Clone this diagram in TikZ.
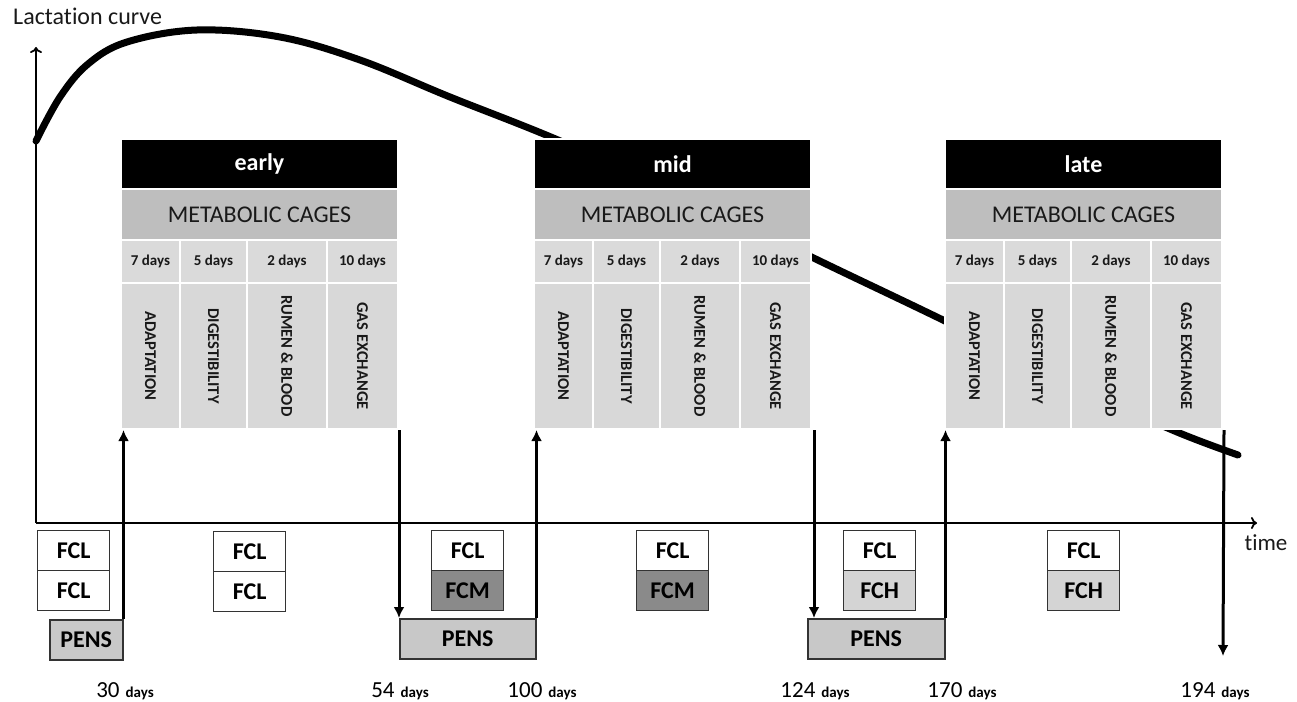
\documentclass[tikz,border=0pt]{standalone}
\usepackage{fontspec}
\setmainfont{Carlito}[Ligatures=NoCommon]
\usetikzlibrary{arrows.meta}
\definecolor{mcgray}{HTML}{BEBEBE}
\definecolor{daygray}{HTML}{DADADA}
\definecolor{bodygray}{HTML}{D8D8D8}
\definecolor{pensgray}{HTML}{C8C8C8}
\definecolor{fcmgray}{HTML}{8A8A8A}
\definecolor{fchgray}{HTML}{D4D4D4}
\tikzset{
  cell/.style={draw=white, line width=2pt, inner sep=0pt, anchor=north west},
  hdrbox/.style={cell, fill=black, text=white, minimum width=277pt, minimum height=50pt,
    font=\fontsize{24}{28}\selectfont\bfseries},
  mcbox/.style={cell, fill=mcgray, text=black!90, minimum width=277pt, minimum height=51pt,
    font=\fontsize{24}{28}\selectfont},
  daybox/.style={cell, fill=daygray, text=black!90, minimum height=43pt,
    font=\fontsize{15}{17}\selectfont\bfseries},
  bodybox/.style={cell, fill=bodygray, minimum height=146pt},
  vtext/.style={rotate=-90, inner sep=0pt, text=black!90, font=\fontsize{16.5}{18}\selectfont\bfseries},
  fbox/.style={draw=black!80, line width=1.3pt, inner sep=0pt, anchor=north west,
    minimum width=72pt, minimum height=40pt, font=\fontsize{24}{28}\selectfont\bfseries},
  pens/.style={draw=black!80, line width=1.5pt, fill=pensgray, inner sep=0pt, anchor=north west,
    minimum height=40pt, font=\fontsize{24}{28}\selectfont\bfseries},
  arr/.style={line width=3pt, -{Latex[length=11pt,width=11pt]}},
  daylbl/.style={anchor=base, inner sep=0pt},
}
\newcommand\dlab[1]{{\fontsize{23}{26}\selectfont #1}\hspace{6pt}{\fontsize{15}{18}\selectfont\bfseries days}}
\newcommand\cagebox[3]{%
  \node[hdrbox] (#1h) at (#2,138) {#3};
  \node[mcbox] (#1m) at (#2,188) {METABOLIC CAGES};
  \node[daybox, minimum width=59pt] (#1d1) at (#2,239) {7 days};
  \node[daybox, minimum width=67pt] (#1d2) at ({#2+59},239) {5 days};
  \node[daybox, minimum width=80pt] (#1d3) at ({#2+126},239) {2 days};
  \node[daybox, minimum width=71pt] (#1d4) at ({#2+206},239) {10 days};
  \node[bodybox, minimum width=59pt] (#1b1) at (#2,282) {};
  \node[bodybox, minimum width=67pt] (#1b2) at ({#2+59},282) {};
  \node[bodybox, minimum width=80pt] (#1b3) at ({#2+126},282) {};
  \node[bodybox, minimum width=71pt] (#1b4) at ({#2+206},282) {};
  \node[vtext] (#1t1) at (#1b1.center) {ADAPTATION};
  \node[vtext] (#1t2) at (#1b2.center) {DIGESTIBILITY};
  \node[vtext] (#1t3) at (#1b3.center) {RUMEN \& BLOOD};
  \node[vtext] (#1t4) at (#1b4.center) {GAS EXCHANGE};
}
\begin{document}
\begin{tikzpicture}[x=1pt, y=-1pt]
\useasboundingbox (0,0) rectangle (1297,701);
% lactation curve
\draw[line width=7pt, line cap=round] plot[smooth, tension=0.6] coordinates {
 (36,141) (60,97) (88,64) (127,42) (197,30) (280,37) (360,60) (450,97)
 (558,140) (700,203) (826,264) (943,320) (1100,397) (1177,432) (1238,455)};
% boxes
\cagebox{e}{120}{early}
\cagebox{m}{533}{mid}
\cagebox{l}{944}{late}
% axes
\coordinate (O) at (36,523);
\coordinate (ytop) at (36,47);
\coordinate (xend) at (1257,523);
\draw[line width=1.8pt, -{To[length=6pt,width=12pt]}] (O) -- (ytop);
\draw[line width=1.8pt, -{To[length=6pt,width=12pt]}] (O) -- (xend);
\node[anchor=base west, inner sep=0pt, font=\fontsize{24}{28}\selectfont, text=black!90] (ylab) at (13,25) {Lactation curve};
\node[anchor=base, inner sep=0pt, font=\fontsize{23}{28}\selectfont, text=black!90] (xlab) at (1266,550) {time};
% feed boxes
\node[fbox] (f1a) at (37,530) {FCL};
\node[fbox] (f1b) at (37,570) {FCL};
\node[fbox] (f2a) at (213,531) {FCL};
\node[fbox] (f2b) at (213,571) {FCL};
\node[fbox] (f3a) at (431,530) {FCL};
\node[fbox, fill=fcmgray] (f3b) at (431,570) {FCM};
\node[fbox] (f4a) at (636,530) {FCL};
\node[fbox, fill=fcmgray] (f4b) at (636,570) {FCM};
\node[fbox] (f5a) at (843,530) {FCL};
\node[fbox, fill=fchgray] (f5b) at (843,570) {FCH};
\node[fbox] (f6a) at (1047,530) {FCL};
\node[fbox, fill=fchgray] (f6b) at (1047,570) {FCH};
% pens
\node[pens, minimum width=73pt] (p1) at (49,619) {PENS};
\node[pens, minimum width=136pt] (p2) at (399,618) {PENS};
\node[pens, minimum width=137pt] (p3) at (807,618) {PENS};
% arrows
\coordinate (end194) at (1223,656);
\draw[arr] (p1.north east) -- (p1.north east |- eb1.south);
\draw[arr] (eb4.south east) -- (eb4.south east |- p2.north);
\draw[arr] (p2.north east) -- (p2.north east |- mb1.south);
\draw[arr] ([xshift=2pt]mb4.south east) -- ([xshift=2pt]mb4.south east |- p3.north);
\draw[arr] (p3.north east) -- (p3.north east |- lb1.south);
\draw[arr] ([xshift=1pt]lb4.south east) -- (end194);
% day labels
\node[daylbl] (d30) at (125,697) {\dlab{30}};
\node[daylbl] (d54) at (400,697) {\dlab{54}};
\node[daylbl] (d100) at (542,697) {\dlab{100}};
\node[daylbl] (d124) at (815,697) {\dlab{124}};
\node[daylbl] (d170) at (962,697) {\dlab{170}};
\node[daylbl] (d194) at (1215,697) {\dlab{194}};
\end{tikzpicture}
\end{document}
